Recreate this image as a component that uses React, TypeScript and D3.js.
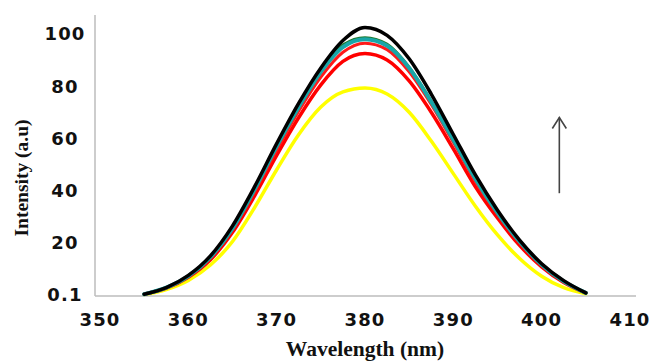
import React from 'react'
import * as d3 from 'd3'

// wavelengths sampled (nm)
const wavelengths = [355, 357.5, 360, 362.5, 365, 367.5, 370, 372.5, 375, 377.5, 380, 382.5, 385, 387.5, 390, 392.5, 395, 397.5, 400, 402.5, 405]

// intensities, one list per spectrum
const yellowValues = [0.2, 2.1, 5.6, 11.5, 20.5, 33.5, 48, 61.5, 72, 77.8, 79.3, 77, 70, 59, 46.5, 34, 23, 14, 7.2, 2.8, 0.5]
const redLowValues = [0.3, 2.6, 6.8, 13.5, 24, 38, 53.5, 68, 80.5, 89.5, 92.5, 90, 82, 70, 56, 41.5, 29.5, 19, 10.8, 4.8, 0.8]
const redHighValues = [0.3, 2.7, 7.1, 14.2, 25, 39.5, 55.5, 70.5, 83.5, 93, 96.5, 94, 85.5, 73, 58.5, 43.5, 31, 20, 11.4, 5.1, 0.8]
const greenValues = [0.3, 2.8, 7.3, 14.7, 26, 41, 57.5, 72.5, 86, 96, 98.8, 96.3, 87.5, 74.5, 59.5, 44.5, 31.8, 20.5, 11.7, 5.3, 0.8]
const tealValues = [0.3, 2.8, 7.2, 14.5, 25.5, 40.5, 57, 72, 85.5, 95, 98, 95.5, 87, 74, 59.5, 44.5, 31.5, 20.5, 11.6, 5.2, 0.8]
const blackValues = [0.3, 2.8, 7.5, 15, 26.5, 41.5, 58, 73.5, 87, 97.5, 102.5, 99.5, 90.5, 77, 61.5, 46, 32.5, 21, 12, 5.5, 0.8]

const xTicks = [350, 360, 370, 380, 390, 400, 410]
const yTicks = [0.1, 20, 40, 60, 80, 100]
const yTickLabels = ['0.1', '20', '40', '60', '80', '100']

// arrow annotation (nm, intensity)
const arrowX = 402
const arrowFrom = 39
const arrowTo = 68

const series = [
  { name: 'yellow', values: yellowValues, color: '#ffff00', width: 3.5 },
  { name: 'redLow', values: redLowValues, color: '#ff0000', width: 3.5 },
  { name: 'redHigh', values: redHighValues, color: '#ff1a1a', width: 3 },
  { name: 'green', values: greenValues, color: '#1f7a2e', width: 2 },
  { name: 'teal', values: tealValues, color: '#19a6a8', width: 4 },
  { name: 'black', values: blackValues, color: '#000000', width: 3.5 },
]

export default function App() {
  const width = 652
  const height = 361

  const x = d3.scaleLinear().domain([350, 410]).range([100, 630])
  const y = d3.scaleLinear().domain([0, 100]).range([295, 34])

  const line = d3.line<[number, number]>()
    .x(d => x(d[0]))
    .y(d => y(d[1]))
    .curve(d3.curveMonotoneX)

  const tickFont = { fontFamily: '"DejaVu Sans", sans-serif', fontWeight: 700, fontSize: 18, letterSpacing: 1.2, fill: '#111' }
  const titleFont = { fontFamily: '"Liberation Serif", serif', fontWeight: 700, fill: '#111' }

  const ax = x(arrowX)
  const ay1 = y(arrowFrom)
  const ay2 = y(arrowTo)

  return (
    <svg width={width} height={height} style={{ position: 'absolute', left: 0, top: 0, background: '#fff' }}>
      {/* axes */}
      <line x1={95} x2={95} y1={15} y2={296} stroke="#bdbdbd" strokeWidth={1.5} />
      <line x1={95} x2={636} y1={296} y2={296} stroke="#bdbdbd" strokeWidth={1.5} />

      {yTicks.map((t, i) => (
        <text key={t} x={65} y={y(t)} dy="0.36em" textAnchor="middle" style={tickFont}>{yTickLabels[i]}</text>
      ))}
      {xTicks.map(t => (
        <text key={t} x={x(t)} y={320} dy="0.36em" textAnchor="middle" style={tickFont}>{t}</text>
      ))}

      {/* spectra */}
      {series.map(s => (
        <path key={s.name}
          d={line(wavelengths.map((w, i) => [w, s.values[i]] as [number, number])) || ''}
          fill="none" stroke={s.color} strokeWidth={s.width} strokeLinecap="round" strokeLinejoin="round" />
      ))}

      {/* arrow */}
      <line x1={ax} x2={ax} y1={ay1} y2={ay2} stroke="#444" strokeWidth={1.6} />
      <polyline points={`${ax - 7},${ay2 + 11} ${ax},${ay2} ${ax + 7},${ay2 + 11}`} fill="none" stroke="#444" strokeWidth={1.6} />

      {/* titles */}
      <text x={365} y={356} textAnchor="middle" style={{ ...titleFont, fontSize: 21.5 }}>Wavelength (nm)</text>
      <text transform="translate(28,178) rotate(-90)" textAnchor="middle" style={{ ...titleFont, fontSize: 19.5 }}>Intensity (a.u)</text>
    </svg>
  )
}
